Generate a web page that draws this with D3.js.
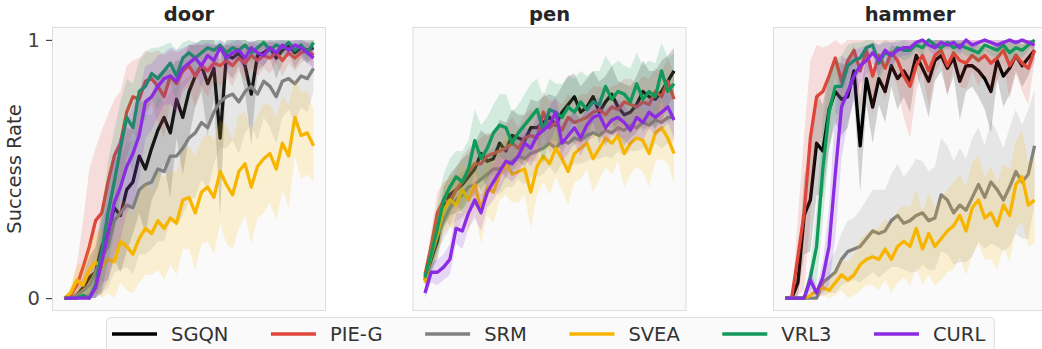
<!DOCTYPE html>
<html>
<head>
<meta charset="utf-8">
<script src="https://cdn.jsdelivr.net/npm/d3@7"></script>
<style>
  body { margin: 0; background: #fff; }
  svg { display: block; font-family: "DejaVu Sans", sans-serif; }
</style>
</head>
<body>
<div id="chart"></div>
<script>
// legend / series info
const methods = ['SGQN', 'PIE-G', 'SRM', 'SVEA', 'VRL3', 'CURL'];
const colors = ['#000000', '#e0453a', '#808080', '#f7b500', '#11995a', '#8b2be2'];
const tasks = ['door', 'pen', 'hammer'];
const yTicks = [0, 1];

// ---- door: mean success rate (41 evaluation points) ----
const doorSGQN = [0,0,0.01,0.04,0.08,0.1,0.2,0.25,0.35,0.32,0.42,0.45,0.55,0.5,0.58,0.65,0.7,0.64,0.77,0.7,0.8,0.86,0.9,0.83,0.89,0.62,0.94,0.93,0.95,0.9,0.79,0.94,0.95,0.97,0.93,0.96,0.98,0.95,0.97,0.96,0.97];
const doorPIEG = [0,0.01,0.05,0.12,0.2,0.3,0.33,0.45,0.55,0.6,0.72,0.78,0.77,0.84,0.85,0.82,0.78,0.86,0.83,0.88,0.9,0.86,0.9,0.88,0.91,0.9,0.92,0.9,0.93,0.91,0.94,0.92,0.94,0.93,0.95,0.92,0.95,0.93,0.95,0.96,0.94];
const doorSRM = [0,0,0.01,0.03,0.05,0.1,0.16,0.2,0.3,0.33,0.36,0.35,0.42,0.44,0.45,0.5,0.49,0.55,0.55,0.58,0.62,0.64,0.68,0.66,0.72,0.76,0.78,0.79,0.76,0.8,0.82,0.79,0.84,0.82,0.78,0.84,0.85,0.83,0.86,0.85,0.89];
const doorSVEA = [0,0.02,0.07,0.05,0.11,0.14,0.12,0.15,0.14,0.22,0.2,0.17,0.23,0.27,0.25,0.3,0.27,0.31,0.29,0.38,0.39,0.33,0.41,0.43,0.39,0.49,0.44,0.4,0.49,0.52,0.43,0.51,0.54,0.56,0.5,0.6,0.55,0.7,0.63,0.64,0.59];
const doorVRL3 = [0,0,0,0.01,0,0.05,0.18,0.33,0.45,0.58,0.7,0.66,0.8,0.82,0.87,0.85,0.88,0.91,0.86,0.93,0.95,0.93,0.95,0.97,0.96,0.98,0.95,0.97,0.96,0.98,0.95,0.97,0.99,0.96,0.98,0.97,0.99,0.96,0.98,0.95,0.99];
const doorCURL = [0,0,0,0,0,0.04,0.14,0.25,0.37,0.43,0.51,0.56,0.63,0.76,0.78,0.82,0.85,0.86,0.84,0.89,0.91,0.93,0.9,0.94,0.92,0.97,0.93,0.95,0.96,0.93,0.97,0.95,0.94,0.97,0.95,0.98,0.96,0.98,0.97,0.95,0.93];
// door: spread (half-width of shaded band)
const doorSGQNsd = [0,0.01,0.02,0.05,0.08,0.1,0.14,0.18,0.2,0.22,0.24,0.2,0.22,0.25,0.2,0.22,0.18,0.25,0.15,0.22,0.18,0.12,0.1,0.2,0.12,0.3,0.06,0.08,0.05,0.1,0.2,0.06,0.05,0.04,0.08,0.05,0.03,0.06,0.04,0.05,0.04];
const doorPIEGsd = [0,0.02,0.08,0.18,0.3,0.28,0.32,0.26,0.22,0.2,0.18,0.14,0.16,0.12,0.1,0.14,0.16,0.1,0.12,0.08,0.08,0.12,0.08,0.1,0.07,0.08,0.06,0.08,0.05,0.07,0.05,0.06,0.05,0.06,0.04,0.06,0.04,0.05,0.04,0.03,0.05];
const doorSRMsd = [0,0.01,0.02,0.04,0.06,0.1,0.14,0.16,0.2,0.22,0.24,0.26,0.25,0.27,0.26,0.28,0.27,0.25,0.27,0.26,0.24,0.25,0.22,0.24,0.2,0.18,0.2,0.18,0.2,0.16,0.15,0.18,0.14,0.16,0.18,0.14,0.12,0.15,0.12,0.13,0.09];
const doorSVEAsd = [0,0.03,0.06,0.08,0.1,0.12,0.14,0.13,0.15,0.16,0.17,0.15,0.17,0.18,0.16,0.19,0.2,0.18,0.2,0.19,0.2,0.22,0.2,0.21,0.22,0.2,0.23,0.21,0.22,0.2,0.22,0.2,0.21,0.19,0.2,0.18,0.2,0.15,0.17,0.16,0.14];
const doorVRL3sd = [0,0,0.01,0.02,0.04,0.08,0.15,0.2,0.2,0.18,0.15,0.17,0.12,0.13,0.1,0.12,0.1,0.08,0.1,0.06,0.05,0.06,0.05,0.04,0.05,0.03,0.04,0.03,0.04,0.03,0.04,0.03,0.02,0.03,0.02,0.03,0.02,0.03,0.02,0.04,0.02];
const doorCURLsd = [0,0,0,0.01,0.02,0.05,0.12,0.18,0.2,0.2,0.18,0.19,0.17,0.14,0.13,0.12,0.1,0.11,0.12,0.08,0.07,0.06,0.08,0.05,0.06,0.03,0.05,0.04,0.04,0.05,0.03,0.04,0.04,0.03,0.04,0.02,0.03,0.02,0.03,0.04,0.04];

// ---- pen ----
const penSGQN = [0.07,0.15,0.22,0.35,0.4,0.42,0.44,0.47,0.5,0.56,0.53,0.54,0.6,0.57,0.63,0.62,0.61,0.66,0.66,0.68,0.7,0.67,0.72,0.75,0.78,0.72,0.74,0.78,0.72,0.76,0.79,0.74,0.71,0.72,0.75,0.8,0.78,0.77,0.8,0.84,0.88];
const penPIEG = [0.09,0.2,0.33,0.38,0.37,0.42,0.45,0.49,0.52,0.52,0.55,0.56,0.57,0.58,0.6,0.58,0.62,0.63,0.62,0.72,0.66,0.68,0.65,0.7,0.68,0.69,0.7,0.72,0.73,0.71,0.74,0.73,0.76,0.75,0.74,0.76,0.75,0.8,0.78,0.84,0.77];
const penSRM = [0.08,0.16,0.24,0.3,0.35,0.38,0.4,0.43,0.44,0.46,0.48,0.5,0.5,0.52,0.53,0.55,0.54,0.56,0.57,0.58,0.6,0.58,0.61,0.6,0.62,0.61,0.63,0.64,0.63,0.65,0.64,0.66,0.65,0.67,0.66,0.68,0.67,0.69,0.68,0.7,0.7];
const penSVEA = [0.06,0.17,0.25,0.34,0.38,0.36,0.42,0.38,0.44,0.34,0.43,0.41,0.48,0.52,0.48,0.49,0.5,0.41,0.51,0.55,0.52,0.58,0.54,0.49,0.56,0.58,0.6,0.54,0.58,0.62,0.6,0.63,0.56,0.6,0.62,0.61,0.56,0.64,0.66,0.62,0.56];
const penVRL3 = [0.08,0.17,0.27,0.38,0.43,0.47,0.45,0.5,0.61,0.54,0.58,0.64,0.67,0.66,0.6,0.64,0.67,0.7,0.73,0.65,0.73,0.72,0.7,0.74,0.72,0.76,0.73,0.76,0.75,0.82,0.77,0.8,0.79,0.76,0.83,0.77,0.8,0.78,0.88,0.8,0.83];
const penCURL = [0.02,0.1,0.1,0.12,0.15,0.27,0.26,0.33,0.38,0.33,0.41,0.45,0.49,0.53,0.52,0.55,0.6,0.58,0.63,0.65,0.67,0.72,0.6,0.63,0.66,0.62,0.67,0.7,0.71,0.66,0.69,0.7,0.68,0.65,0.7,0.68,0.72,0.7,0.72,0.74,0.69];
const penSGQNsd = [0.02,0.05,0.07,0.08,0.08,0.09,0.1,0.09,0.1,0.09,0.1,0.1,0.09,0.11,0.1,0.09,0.1,0.11,0.1,0.1,0.09,0.11,0.1,0.11,0.09,0.1,0.11,0.1,0.12,0.1,0.11,0.1,0.12,0.1,0.11,0.12,0.1,0.11,0.12,0.1,0.09];
const penPIEGsd = [0.03,0.06,0.08,0.07,0.09,0.08,0.1,0.09,0.08,0.1,0.09,0.08,0.1,0.09,0.1,0.08,0.09,0.1,0.09,0.08,0.1,0.09,0.1,0.09,0.08,0.1,0.09,0.1,0.09,0.1,0.08,0.1,0.09,0.1,0.09,0.1,0.1,0.09,0.1,0.09,0.1];
const penSRMsd = [0.02,0.05,0.06,0.07,0.08,0.08,0.09,0.08,0.09,0.1,0.09,0.08,0.1,0.09,0.1,0.09,0.1,0.09,0.1,0.1,0.09,0.1,0.09,0.1,0.1,0.09,0.1,0.1,0.09,0.1,0.1,0.09,0.1,0.1,0.09,0.1,0.1,0.09,0.1,0.1,0.09];
const penSVEAsd = [0.02,0.06,0.08,0.09,0.1,0.11,0.1,0.12,0.1,0.13,0.11,0.12,0.1,0.12,0.11,0.12,0.1,0.14,0.11,0.1,0.12,0.11,0.12,0.13,0.11,0.12,0.1,0.13,0.12,0.11,0.12,0.1,0.13,0.12,0.11,0.12,0.13,0.11,0.12,0.1,0.12];
const penVRL3sd = [0.03,0.07,0.09,0.1,0.11,0.1,0.12,0.11,0.12,0.13,0.12,0.11,0.12,0.13,0.12,0.11,0.12,0.13,0.12,0.13,0.12,0.11,0.13,0.12,0.13,0.12,0.13,0.12,0.13,0.12,0.13,0.12,0.11,0.13,0.12,0.13,0.12,0.13,0.11,0.13,0.12];
const penCURLsd = [0.03,0.04,0.05,0.05,0.06,0.06,0.07,0.06,0.07,0.07,0.06,0.07,0.07,0.06,0.07,0.07,0.06,0.07,0.07,0.06,0.07,0.06,0.07,0.07,0.06,0.07,0.07,0.06,0.07,0.07,0.06,0.07,0.07,0.06,0.07,0.07,0.06,0.07,0.07,0.06,0.07];

// ---- hammer ----
const hammerSGQN = [0,0,0.06,0.32,0.38,0.6,0.57,0.73,0.8,0.77,0.78,0.88,0.59,0.85,0.74,0.85,0.8,0.9,0.85,0.88,0.84,0.94,0.89,0.84,0.92,0.94,0.89,0.93,0.84,0.9,0.9,0.88,0.85,0.8,0.92,0.86,0.89,0.94,0.9,0.93,0.96];
const hammerPIEG = [0,0,0.16,0.33,0.62,0.78,0.8,0.86,0.93,0.84,0.92,0.96,0.88,0.96,0.86,0.94,0.89,0.95,0.92,0.86,0.82,0.9,0.94,0.88,0.94,0.96,0.9,0.95,0.92,0.91,0.94,0.92,0.94,0.91,0.93,0.96,0.9,0.94,0.91,0.89,0.96];
const hammerSRM = [0,0,0,0,0,0,0.06,0.08,0.1,0.15,0.18,0.19,0.2,0.23,0.26,0.25,0.26,0.3,0.32,0.29,0.3,0.32,0.33,0.3,0.31,0.4,0.38,0.33,0.36,0.34,0.39,0.44,0.39,0.45,0.42,0.38,0.43,0.49,0.45,0.48,0.59];
const hammerSVEA = [0,0,0,0,0.01,0.03,0.04,0.03,0.06,0.09,0.07,0.09,0.13,0.15,0.16,0.15,0.19,0.15,0.2,0.22,0.2,0.27,0.19,0.25,0.2,0.23,0.26,0.28,0.32,0.26,0.35,0.38,0.31,0.33,0.28,0.36,0.32,0.44,0.47,0.36,0.38];
const hammerVRL3 = [0,0,0,0,0.08,0.2,0.5,0.72,0.82,0.82,0.9,0.92,0.93,0.97,0.98,0.91,0.95,0.94,0.97,0.96,0.96,0.98,0.97,1,0.98,0.97,0.99,0.97,0.98,0.97,0.96,0.95,0.98,0.97,0.96,0.98,0.95,0.97,0.96,0.98,1];
const hammerCURL = [0,0,0,0,0.07,0.02,0.08,0.2,0.48,0.74,0.8,0.86,0.9,0.92,0.95,0.92,0.96,0.94,0.96,0.97,0.97,0.99,1,0.98,0.97,0.99,0.98,0.99,0.97,1,0.98,0.99,1,0.99,0.98,0.99,1,0.99,1,0.99,0.98];
const hammerSGQNsd = [0,0,0.05,0.15,0.2,0.2,0.18,0.15,0.12,0.14,0.12,0.1,0.18,0.1,0.14,0.1,0.12,0.08,0.12,0.1,0.12,0.06,0.1,0.14,0.08,0.06,0.1,0.07,0.15,0.1,0.08,0.1,0.12,0.16,0.07,0.12,0.1,0.06,0.08,0.07,0.04];
const hammerPIEGsd = [0,0,0.15,0.3,0.3,0.2,0.17,0.12,0.07,0.14,0.08,0.05,0.14,0.05,0.15,0.08,0.12,0.06,0.1,0.16,0.2,0.1,0.06,0.14,0.07,0.04,0.12,0.05,0.1,0.1,0.06,0.1,0.07,0.12,0.09,0.05,0.13,0.07,0.11,0.14,0.04];
const hammerSRMsd = [0,0,0,0,0,0,0.05,0.06,0.08,0.1,0.12,0.12,0.14,0.15,0.16,0.17,0.16,0.18,0.2,0.18,0.2,0.22,0.2,0.19,0.2,0.22,0.21,0.2,0.22,0.2,0.23,0.22,0.2,0.24,0.22,0.2,0.23,0.24,0.22,0.25,0.22];
const hammerSVEAsd = [0,0,0,0,0.01,0.02,0.03,0.04,0.05,0.06,0.07,0.08,0.1,0.1,0.11,0.12,0.12,0.13,0.14,0.14,0.15,0.15,0.14,0.16,0.15,0.16,0.16,0.17,0.16,0.17,0.18,0.17,0.16,0.18,0.17,0.16,0.18,0.17,0.18,0.16,0.17];
const hammerVRL3sd = [0,0,0,0,0.05,0.15,0.2,0.15,0.1,0.12,0.08,0.07,0.06,0.04,0.03,0.07,0.05,0.05,0.03,0.04,0.03,0.02,0.03,0.01,0.02,0.03,0.01,0.03,0.02,0.03,0.03,0.04,0.02,0.03,0.03,0.02,0.04,0.03,0.03,0.02,0.01];
const hammerCURLsd = [0,0,0,0,0.05,0.02,0.06,0.15,0.25,0.2,0.12,0.1,0.07,0.06,0.04,0.06,0.03,0.05,0.03,0.03,0.03,0.01,0.01,0.02,0.03,0.01,0.02,0.01,0.03,0.01,0.02,0.01,0.01,0.01,0.02,0.01,0.01,0.01,0.01,0.01,0.02];

const meansByTask = {
  door: [doorSGQN, doorPIEG, doorSRM, doorSVEA, doorVRL3, doorCURL],
  pen: [penSGQN, penPIEG, penSRM, penSVEA, penVRL3, penCURL],
  hammer: [hammerSGQN, hammerPIEG, hammerSRM, hammerSVEA, hammerVRL3, hammerCURL]
};
const sdByTask = {
  door: [doorSGQNsd, doorPIEGsd, doorSRMsd, doorSVEAsd, doorVRL3sd, doorCURLsd],
  pen: [penSGQNsd, penPIEGsd, penSRMsd, penSVEAsd, penVRL3sd, penCURLsd],
  hammer: [hammerSGQNsd, hammerPIEGsd, hammerSRMsd, hammerSVEAsd, hammerVRL3sd, hammerCURLsd]
};

const W = 1042, H = 349;
const panelLeft = [52, 412.5, 773];
const panelW = 274;
const plotTop = 27, plotBottom = 311;

const svg = d3.select('#chart').append('svg')
  .attr('width', W)
  .attr('height', H);

const y = d3.scaleLinear().domain([-0.05, 1.05]).range([plotBottom, plotTop]);

tasks.forEach((task, ti) => {
  const n = meansByTask[task][0].length;
  const x = d3.scaleLinear()
    .domain([-(n - 1) * 0.05, (n - 1) * 1.05])
    .range([panelLeft[ti], panelLeft[ti] + panelW]);

  const g = svg.append('g');

  // panel background + frame
  g.append('rect')
    .attr('x', panelLeft[ti] + 0.5)
    .attr('y', plotTop + 0.5)
    .attr('width', panelW - 1)
    .attr('height', plotBottom - plotTop - 1)
    .attr('fill', '#fafafa')
    .attr('stroke', '#dddddd')
    .attr('stroke-width', 1);

  const clipId = 'clip-' + task;
  g.append('clipPath').attr('id', clipId)
    .append('rect')
    .attr('x', panelLeft[ti]).attr('y', plotTop)
    .attr('width', panelW).attr('height', plotBottom - plotTop);

  const plot = g.append('g').attr('clip-path', `url(#${clipId})`);

  methods.forEach((m, mi) => {
    const mean = meansByTask[task][mi];
    const sd = sdByTask[task][mi];
    const rows = mean.map((v, i) => ({ i, v, lo: Math.max(0, v - sd[i]), hi: Math.min(1, v + sd[i]) }));

    plot.append('path')
      .datum(rows)
      .attr('fill', colors[mi])
      .attr('fill-opacity', 0.17)
      .attr('d', d3.area().x(d => x(d.i)).y0(d => y(d.lo)).y1(d => y(d.hi)));

    plot.append('path')
      .datum(rows)
      .attr('fill', 'none')
      .attr('stroke', colors[mi])
      .attr('stroke-width', 3.3)
      .attr('stroke-linejoin', 'round')
      .attr('d', d3.line().x(d => x(d.i)).y(d => y(d.v)));
  });

  // title
  g.append('text')
    .attr('x', panelLeft[ti] + panelW / 2)
    .attr('y', 21)
    .attr('text-anchor', 'middle')
    .style('font-size', '19.5px')
    .style('font-weight', 'bold')
    .attr('fill', '#262626')
    .text(task);

  // y axis only on first panel
  if (ti === 0) {
    const axis = g.append('g')
      .attr('transform', `translate(${panelLeft[ti]},0)`)
      .call(d3.axisLeft(y).tickValues(yTicks).tickFormat(d3.format('d')).tickSize(6).tickPadding(6));
    axis.select('.domain').remove();
    axis.selectAll('line').attr('stroke', '#444').attr('stroke-width', 1.2);
    axis.selectAll('text')
      .style('font-size', '19.5px')
      .style('font-family', '"DejaVu Sans", sans-serif')
      .attr('fill', '#444');

    svg.append('text')
      .attr('transform', `translate(21,${(plotTop + plotBottom) / 2}) rotate(-90)`)
      .attr('text-anchor', 'middle')
      .style('font-size', '19.5px')
      .attr('fill', '#333')
      .text('Success Rate');
  }
});

// legend
const legend = svg.append('g');
const legendBox = legend.append('rect')
  .attr('x', 106.5)
  .attr('y', 317.5)
  .attr('height', 44)
  .attr('rx', 4)
  .attr('fill', '#fafafa')
  .attr('stroke', '#dddddd');

let lx = 112;
methods.forEach((m, mi) => {
  legend.append('line')
    .attr('x1', lx).attr('x2', lx + 45)
    .attr('y1', 334).attr('y2', 334)
    .attr('stroke', colors[mi])
    .attr('stroke-width', 3.5);
  const t = legend.append('text')
    .attr('x', lx + 59)
    .attr('y', 341)
    .style('font-size', '19.5px')
    .attr('fill', '#333')
    .text(m);
  lx += 59 + t.node().getComputedTextLength() + 42.5;
});
legendBox.attr('width', lx - 42.5 + 9 - 106.5);
</script>
</body>
</html>
